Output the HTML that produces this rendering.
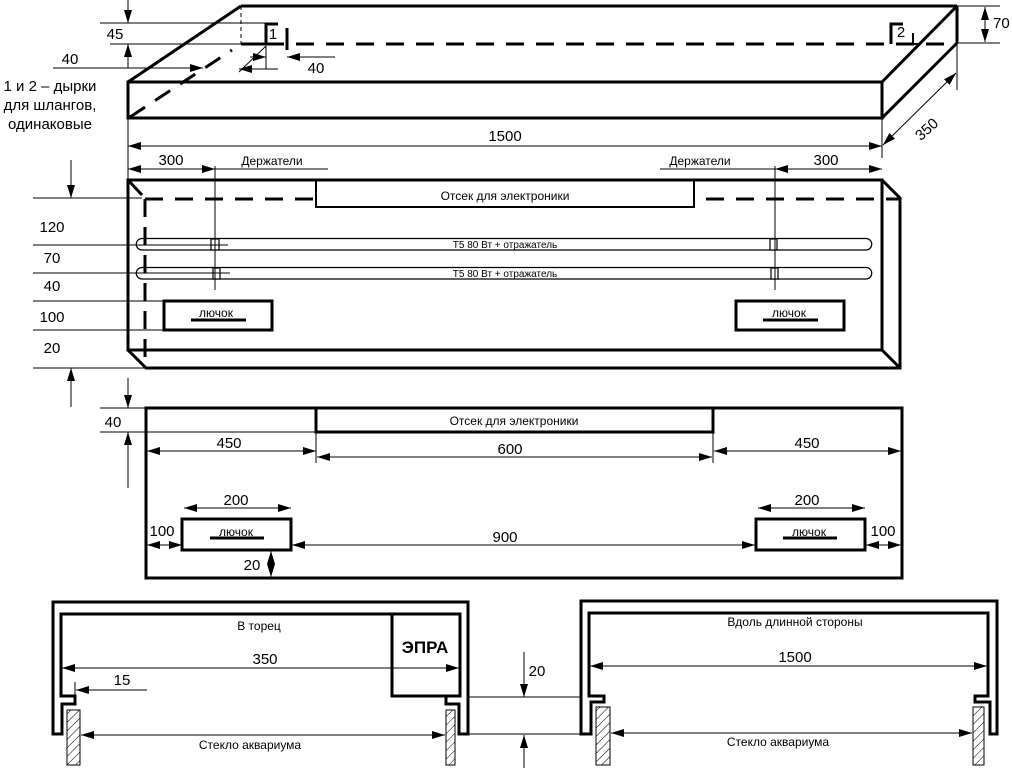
<!DOCTYPE html>
<html><head><meta charset="utf-8"><style>
html,body{margin:0;padding:0;background:#fff;}
svg{display:block;}
text{font-family:"Liberation Sans","DejaVu Sans",sans-serif;fill:#000;}
</style></head><body>
<svg width="1012" height="768" viewBox="0 0 1012 768" xmlns="http://www.w3.org/2000/svg">
<defs>
<marker id="a" markerUnits="userSpaceOnUse" markerWidth="14" markerHeight="10" refX="13" refY="4" orient="auto-start-reverse"><path d="M0,0 L13,4 L0,8 Z" fill="#000"/></marker>
<pattern id="h" patternUnits="userSpaceOnUse" width="6" height="6" patternTransform="rotate(45)"><line x1="0" y1="0" x2="0" y2="6" stroke="#000" stroke-width="1"/></pattern>
</defs>
<g fill="none" stroke="#000">
<g stroke-width="3">
<rect x="128" y="82" width="754" height="36"/>
<line x1="128" y1="82" x2="241" y2="6"/>
<line x1="241" y1="6" x2="957" y2="6"/>
<line x1="882" y1="82" x2="957" y2="6"/>
<line x1="882" y1="118" x2="957" y2="43"/>
<line x1="957" y1="6" x2="957" y2="43"/>
</g>
<line x1="266" y1="44" x2="957" y2="44" stroke-width="3" stroke-dasharray="18,12"/>
<line x1="241" y1="44" x2="266" y2="44" stroke-width="3"/>
<line x1="130" y1="117" x2="232" y2="50" stroke-width="3" stroke-dasharray="18,12"/>
<line x1="241" y1="6" x2="241" y2="44" stroke-width="1" stroke-dasharray="4,3"/>
<path d="M266,44 V24 H278" stroke-width="3"/>
<line x1="287" y1="28" x2="287" y2="50" stroke-width="3"/>
<path d="M891,44 V24 H903" stroke-width="3"/>
<path d="M913,33 V44 H918" stroke-width="2"/>
<g stroke-width="1">
<line x1="100" y1="23" x2="278" y2="23"/>
<line x1="110" y1="44" x2="241" y2="44"/>
<line x1="128" y1="0" x2="128" y2="23" marker-end="url(#a)"/>
<line x1="128" y1="68" x2="128" y2="44" marker-end="url(#a)"/>
<line x1="53" y1="68" x2="203" y2="68" marker-end="url(#a)"/>
<line x1="278" y1="69" x2="239" y2="69" marker-end="url(#a)"/>
<line x1="239" y1="72" x2="266" y2="46"/>
<line x1="266" y1="46" x2="266" y2="69"/>
<line x1="250" y1="57" x2="266" y2="57" marker-end="url(#a)"/>
<line x1="335" y1="57" x2="287" y2="57" marker-end="url(#a)"/>
<line x1="128" y1="118" x2="128" y2="158"/>
<line x1="882" y1="118" x2="882" y2="158"/>
<line x1="128" y1="146" x2="882" y2="146" marker-start="url(#a)" marker-end="url(#a)"/>
<line x1="957" y1="6" x2="1000" y2="6"/>
<line x1="957" y1="43" x2="1000" y2="43"/>
<line x1="985" y1="7" x2="985" y2="42" marker-start="url(#a)" marker-end="url(#a)"/>
<line x1="957" y1="43" x2="957" y2="90"/>
<line x1="883" y1="145" x2="956" y2="73" marker-start="url(#a)" marker-end="url(#a)"/>
</g>
<g stroke-width="3">
<rect x="128" y="180" width="754" height="170"/>
<path d="M882,180 L900,198 V368 H146 L128,350"/>
<line x1="882" y1="350" x2="900" y2="368"/>
<line x1="128" y1="180" x2="142" y2="195"/>
<path d="M316,180 V207 H694 V180" stroke-width="2"/>
<rect x="164" y="301" width="108" height="29"/>
<rect x="736" y="301" width="108" height="29"/>
<line x1="191" y1="320" x2="246" y2="320"/>
<line x1="763" y1="320" x2="818" y2="320"/>
</g>
<line x1="145" y1="199" x2="316" y2="199" stroke-width="3" stroke-dasharray="18,12"/>
<line x1="706" y1="199" x2="900" y2="199" stroke-width="3" stroke-dasharray="18,12"/>
<line x1="145" y1="199" x2="145" y2="362" stroke-width="3" stroke-dasharray="18,10"/>
<g stroke-width="1.2">
<path d="M142,238.5 H866 A5.75,5.75 0 0 1 866,250 H142 A5.75,5.75 0 0 1 142,238.5 Z"/>
<path d="M142,267.5 H866 A5.75,5.75 0 0 1 866,279 H142 A5.75,5.75 0 0 1 142,267.5 Z"/>
<rect x="211" y="239" width="8" height="11" fill="#fff"/>
<rect x="213" y="268" width="7" height="11" fill="#fff"/>
<rect x="770" y="239" width="7" height="11" fill="#fff"/>
<rect x="771" y="268" width="7" height="11" fill="#fff"/>
</g>
<g stroke-width="1">
<line x1="215" y1="166" x2="215" y2="290"/>
<line x1="775" y1="166" x2="775" y2="290"/>
<line x1="128" y1="158" x2="128" y2="180"/>
<line x1="128" y1="169" x2="215" y2="169" marker-start="url(#a)" marker-end="url(#a)"/>
<line x1="215" y1="169" x2="328" y2="169"/>
<line x1="660" y1="169" x2="775" y2="169"/>
<line x1="775" y1="169" x2="882" y2="169" marker-start="url(#a)" marker-end="url(#a)"/>
<line x1="33" y1="198" x2="142" y2="198"/>
<line x1="33" y1="245" x2="228" y2="245"/>
<line x1="33" y1="273" x2="230" y2="273"/>
<line x1="33" y1="301" x2="164" y2="301"/>
<line x1="33" y1="330" x2="164" y2="330"/>
<line x1="33" y1="368" x2="146" y2="368"/>
<line x1="71" y1="160" x2="71" y2="198" marker-end="url(#a)"/>
<line x1="71" y1="407" x2="71" y2="368" marker-end="url(#a)"/>
</g>
<g stroke-width="3">
<rect x="146" y="408" width="756" height="170"/>
<path d="M316,408 V432 H713 V408"/>
<rect x="182" y="519" width="109" height="31"/>
<rect x="756" y="519" width="109" height="31"/>
<line x1="210" y1="538" x2="264" y2="538"/>
<line x1="783" y1="538" x2="837" y2="538"/>
</g>
<g stroke-width="1">
<line x1="100" y1="408" x2="146" y2="408"/>
<line x1="100" y1="432" x2="316" y2="432"/>
<line x1="128" y1="378" x2="128" y2="408" marker-end="url(#a)"/>
<line x1="128" y1="488" x2="128" y2="432" marker-end="url(#a)"/>
<line x1="316" y1="432" x2="316" y2="463"/>
<line x1="713" y1="432" x2="713" y2="463"/>
<line x1="147" y1="451" x2="316" y2="451" marker-start="url(#a)" marker-end="url(#a)"/>
<line x1="317" y1="457" x2="712" y2="457" marker-start="url(#a)" marker-end="url(#a)"/>
<line x1="714" y1="451" x2="901" y2="451" marker-start="url(#a)" marker-end="url(#a)"/>
<line x1="184" y1="508" x2="291" y2="508" marker-start="url(#a)" marker-end="url(#a)"/>
<line x1="758" y1="508" x2="865" y2="508" marker-start="url(#a)" marker-end="url(#a)"/>
<line x1="147" y1="545" x2="182" y2="545" marker-start="url(#a)" marker-end="url(#a)"/>
<line x1="292" y1="545" x2="755" y2="545" marker-start="url(#a)" marker-end="url(#a)"/>
<line x1="866" y1="545" x2="901" y2="545" marker-start="url(#a)" marker-end="url(#a)"/>
<line x1="271" y1="551" x2="271" y2="577" marker-start="url(#a)" marker-end="url(#a)"/>
</g>
<g stroke-width="3" stroke-linejoin="miter">
<path d="M53,602 H468 V734 H459 V704 H446 V696 H460 V614 H61 V696 H75 V704 H62 V734 H53 Z"/>
<path d="M392,614 V696 H460"/>
<path d="M581,601 H997 V734 H990 V702 H975 V696 H988 V613 H589 V696 H604 V702 H591 V734 H581 Z"/>
</g>
<g stroke-width="1">
<rect x="67" y="710" width="13" height="55" fill="url(#h)"/>
<rect x="446" y="710" width="9" height="55" fill="url(#h)"/>
<rect x="596" y="707" width="14" height="58" fill="url(#h)"/>
<rect x="973" y="707" width="11" height="58" fill="url(#h)"/>
<line x1="62" y1="668" x2="459" y2="668" marker-start="url(#a)" marker-end="url(#a)"/>
<line x1="75" y1="682" x2="75" y2="696"/>
<line x1="147" y1="690" x2="76" y2="690" marker-end="url(#a)"/>
<line x1="81" y1="735" x2="445" y2="735" marker-start="url(#a)" marker-end="url(#a)"/>
<line x1="468" y1="697" x2="581" y2="697"/>
<line x1="468" y1="734" x2="581" y2="734"/>
<line x1="524" y1="652" x2="524" y2="697" marker-end="url(#a)"/>
<line x1="524" y1="768" x2="524" y2="735" marker-end="url(#a)"/>
<line x1="590" y1="666" x2="987" y2="666" marker-start="url(#a)" marker-end="url(#a)"/>
<line x1="611" y1="733" x2="972" y2="733" marker-start="url(#a)" marker-end="url(#a)"/>
</g>
</g>
<g font-size="15">
<text x="115" y="39" text-anchor="middle">45</text>
<text x="70" y="64" text-anchor="middle">40</text>
<text x="316" y="73" text-anchor="middle">40</text>
<text x="273" y="39" text-anchor="middle">1</text>
<text x="901" y="37" text-anchor="middle">2</text>
<text x="50" y="91" text-anchor="middle">1 и 2 – дырки</text>
<text x="50" y="110" text-anchor="middle">для шлангов,</text>
<text x="50" y="129" text-anchor="middle">одинаковые</text>
<text x="505" y="141" text-anchor="middle">1500</text>
<text x="993" y="28">70</text>
<text x="930" y="133" text-anchor="middle" transform="rotate(-42 930 133)">350</text>
<text x="171" y="165" text-anchor="middle">300</text>
<text x="826" y="165" text-anchor="middle">300</text>
<text x="52" y="232" text-anchor="middle">120</text>
<text x="52" y="263" text-anchor="middle">70</text>
<text x="52" y="291" text-anchor="middle">40</text>
<text x="52" y="322" text-anchor="middle">100</text>
<text x="52" y="353" text-anchor="middle">20</text>
<text x="113" y="427" text-anchor="middle">40</text>
<text x="229" y="448" text-anchor="middle">450</text>
<text x="510" y="454" text-anchor="middle">600</text>
<text x="807" y="448" text-anchor="middle">450</text>
<text x="236" y="505" text-anchor="middle">200</text>
<text x="807" y="505" text-anchor="middle">200</text>
<text x="162" y="536" text-anchor="middle">100</text>
<text x="883" y="536" text-anchor="middle">100</text>
<text x="505" y="542" text-anchor="middle">900</text>
<text x="252" y="570" text-anchor="middle">20</text>
<text x="265" y="664" text-anchor="middle">350</text>
<text x="122" y="685" text-anchor="middle">15</text>
<text x="537" y="676" text-anchor="middle">20</text>
<text x="795" y="662" text-anchor="middle">1500</text>
</g>
<g font-size="12">
<text x="272" y="165" text-anchor="middle">Держатели</text>
<text x="700" y="165" text-anchor="middle">Держатели</text>
<text x="505" y="200" text-anchor="middle">Отсек для электроники</text>
<text x="514" y="425" text-anchor="middle">Отсек для электроники</text>
<text x="216" y="317" text-anchor="middle">лючок</text>
<text x="789" y="317" text-anchor="middle">лючок</text>
<text x="236" y="536" text-anchor="middle">лючок</text>
<text x="809" y="536" text-anchor="middle">лючок</text>
<text x="259" y="630" text-anchor="middle">В торец</text>
<text x="795" y="626" text-anchor="middle">Вдоль длинной стороны</text>
<text x="250" y="749" text-anchor="middle">Стекло аквариума</text>
<text x="778" y="746" text-anchor="middle">Стекло аквариума</text>
</g>
<text x="505" y="248" font-size="10" text-anchor="middle">T5 80 Вт + отражатель</text>
<text x="505" y="277" font-size="10" text-anchor="middle">T5 80 Вт + отражатель</text>
<text x="425" y="653" font-size="17" font-weight="bold" text-anchor="middle">ЭПРА</text>
</svg>
</body></html>
